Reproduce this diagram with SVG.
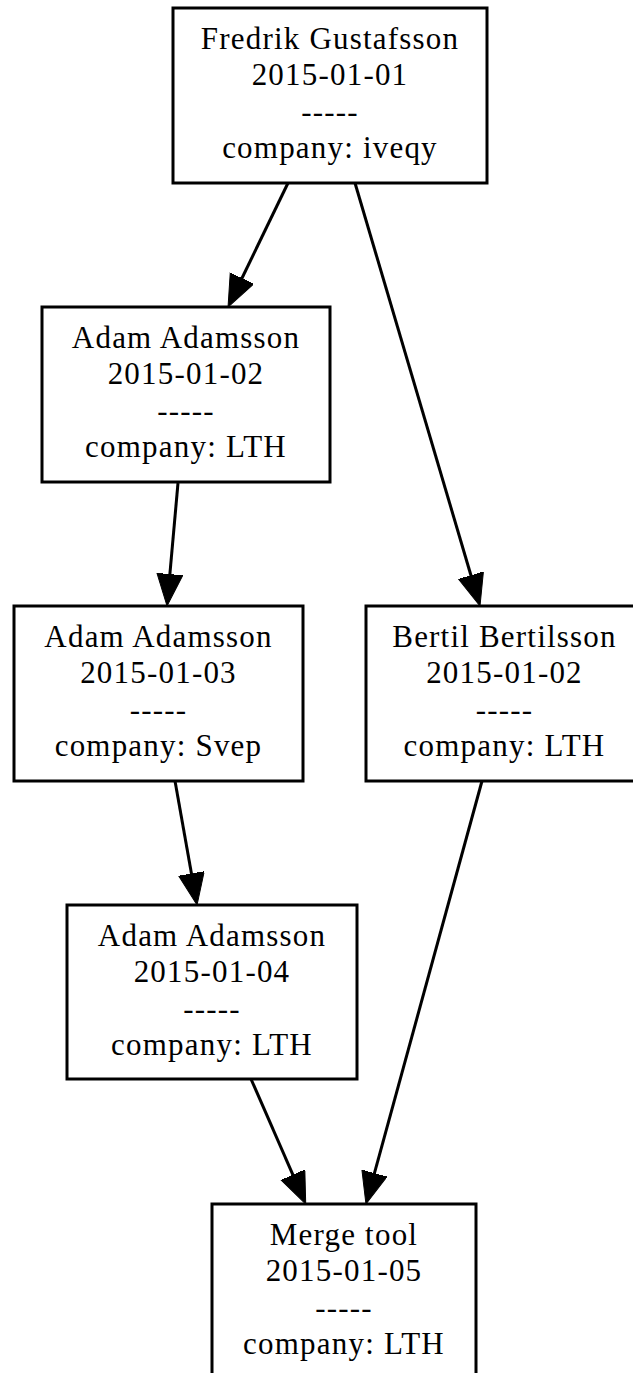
<svg xmlns="http://www.w3.org/2000/svg" width="633" height="1373" viewBox="0 0 633 1373">
<style>
.box{fill:#fff;stroke:#000;stroke-width:3}
.edge{fill:none;stroke:#000;stroke-width:3}
text{font-family:"Liberation Serif","Times New Roman",serif;font-size:31px;letter-spacing:1.2px;fill:#000;text-anchor:middle}
</style>
<defs>
<marker id="arr" markerUnits="userSpaceOnUse" markerWidth="40" markerHeight="30" refX="2" refY="13" orient="auto">
<path d="M0,0 L32,13 L0,26 z" fill="#000" stroke="#000" stroke-width="1"/>
</marker>
</defs>
<rect width="633" height="1373" fill="#fff"/>
<g id="connectors">
<line class="edge" x1="288" y1="183" x2="241.1" y2="280" marker-end="url(#arr)"/>
<line class="edge" x1="178" y1="483" x2="169.7" y2="576.1" marker-end="url(#arr)"/>
<line class="edge" x1="355" y1="183" x2="471.5" y2="577.2" marker-end="url(#arr)"/>
<line class="edge" x1="175" y1="781" x2="191.8" y2="875.5" marker-end="url(#arr)"/>
<line class="edge" x1="251" y1="1079" x2="293.7" y2="1176.6" marker-end="url(#arr)"/>
<line class="edge" x1="482" y1="781" x2="373.9" y2="1175.1" marker-end="url(#arr)"/>
</g>
<g id="n1">
<rect class="box" x="173" y="8" width="314" height="175"/>
<text x="330" y="48.5">Fredrik Gustafsson</text>
<text x="330" y="85">2015-01-01</text>
<text x="330" y="121.5">-----</text>
<text x="330" y="158">company: iveqy</text>
</g>
<g id="n2">
<rect class="box" x="42" y="307" width="288" height="175"/>
<text x="186" y="347.5">Adam Adamsson</text>
<text x="186" y="384">2015-01-02</text>
<text x="186" y="420.5">-----</text>
<text x="186" y="457">company: LTH</text>
</g>
<g id="n3">
<rect class="box" x="14" y="606" width="289" height="175"/>
<text x="158.5" y="646.5">Adam Adamsson</text>
<text x="158.5" y="683">2015-01-03</text>
<text x="158.5" y="719.5">-----</text>
<text x="158.5" y="756">company: Svep</text>
</g>
<g id="n4">
<rect class="box" x="366" y="606" width="277" height="175"/>
<text x="504.5" y="646.5">Bertil Bertilsson</text>
<text x="504.5" y="683">2015-01-02</text>
<text x="504.5" y="719.5">-----</text>
<text x="504.5" y="756">company: LTH</text>
</g>
<g id="n5">
<rect class="box" x="67" y="905" width="290" height="174"/>
<text x="212" y="945.5">Adam Adamsson</text>
<text x="212" y="982">2015-01-04</text>
<text x="212" y="1018.5">-----</text>
<text x="212" y="1055">company: LTH</text>
</g>
<g id="n6">
<rect class="box" x="212" y="1204" width="264" height="175"/>
<text x="344" y="1244.5">Merge tool</text>
<text x="344" y="1281">2015-01-05</text>
<text x="344" y="1317.5">-----</text>
<text x="344" y="1354">company: LTH</text>
</g>
</svg>
